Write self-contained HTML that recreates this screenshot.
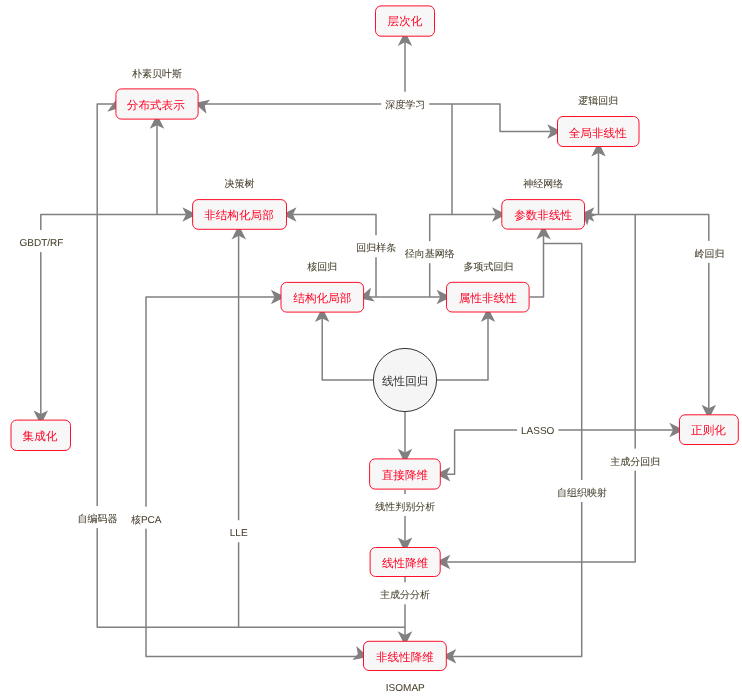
<!DOCTYPE html>
<html><head><meta charset="utf-8"><style>
html,body{margin:0;padding:0;background:#fff;}
body{width:742px;height:699px;overflow:hidden;position:relative;font-family:"Liberation Sans",sans-serif;}
svg{position:absolute;left:0;top:0;will-change:transform;}
</style></head><body>
<svg width="742" height="699" viewBox="0 0 742 699" font-family="Liberation Sans, sans-serif">

<polyline points="199.00,104.00 500.00,104.00 500.00,131.60 557.00,131.60" fill="none" stroke="#808080" stroke-width="1.5" stroke-linejoin="round"/>
<polyline points="405.00,104.00 405.00,37.00" fill="none" stroke="#808080" stroke-width="1.5" stroke-linejoin="round"/>
<polyline points="452.00,104.00 452.00,214.60 501.00,214.60" fill="none" stroke="#808080" stroke-width="1.5" stroke-linejoin="round"/>
<polyline points="429.70,297.00 429.70,214.60 452.00,214.60" fill="none" stroke="#808080" stroke-width="1.5" stroke-linejoin="round"/>
<polyline points="364.00,297.00 446.00,297.00" fill="none" stroke="#808080" stroke-width="1.5" stroke-linejoin="round"/>
<polyline points="287.00,214.60 376.00,214.60 376.00,297.00" fill="none" stroke="#808080" stroke-width="1.5" stroke-linejoin="round"/>
<polyline points="40.80,420.00 40.80,214.60 192.00,214.60" fill="none" stroke="#808080" stroke-width="1.5" stroke-linejoin="round"/>
<polyline points="157.00,214.60 157.00,120.00" fill="none" stroke="#808080" stroke-width="1.5" stroke-linejoin="round"/>
<polyline points="405.00,627.30 97.20,627.30 97.20,104.00 115.50,104.00" fill="none" stroke="#808080" stroke-width="1.5" stroke-linejoin="round"/>
<polyline points="238.60,627.30 238.60,230.00" fill="none" stroke="#808080" stroke-width="1.5" stroke-linejoin="round"/>
<polyline points="363.00,656.40 146.00,656.40 146.00,297.00 280.50,297.00" fill="none" stroke="#808080" stroke-width="1.5" stroke-linejoin="round"/>
<polyline points="405.00,577.00 405.00,641.00" fill="none" stroke="#808080" stroke-width="1.5" stroke-linejoin="round"/>
<polyline points="405.00,490.00 405.00,547.00" fill="none" stroke="#808080" stroke-width="1.5" stroke-linejoin="round"/>
<polyline points="405.00,412.00 405.00,458.00" fill="none" stroke="#808080" stroke-width="1.5" stroke-linejoin="round"/>
<polyline points="373.40,380.00 322.20,380.00 322.20,312.50" fill="none" stroke="#808080" stroke-width="1.5" stroke-linejoin="round"/>
<polyline points="436.60,380.00 488.00,380.00 488.00,312.50" fill="none" stroke="#808080" stroke-width="1.5" stroke-linejoin="round"/>
<polyline points="529.60,297.00 543.50,297.00 543.50,230.00" fill="none" stroke="#808080" stroke-width="1.5" stroke-linejoin="round"/>
<polyline points="543.50,243.40 581.70,243.40 581.70,656.40 446.60,656.40" fill="none" stroke="#808080" stroke-width="1.5" stroke-linejoin="round"/>
<polyline points="585.00,214.60 708.80,214.60 708.80,414.30" fill="none" stroke="#808080" stroke-width="1.5" stroke-linejoin="round"/>
<polyline points="598.50,214.60 598.50,147.00" fill="none" stroke="#808080" stroke-width="1.5" stroke-linejoin="round"/>
<polyline points="635.20,214.60 635.20,562.10 440.70,562.10" fill="none" stroke="#808080" stroke-width="1.5" stroke-linejoin="round"/>
<polyline points="679.00,429.90 454.60,429.90 454.60,474.20 441.00,474.20" fill="none" stroke="#808080" stroke-width="1.5" stroke-linejoin="round"/>
<path d="M561.70 131.60 L547.20 138.85 L550.83 131.60 L547.20 124.35 Z" fill="#808080"/>
<path d="M405.00 31.40 L412.25 45.90 L405.00 42.27 L397.75 45.90 Z" fill="#808080"/>
<path d="M506.50 214.60 L492.00 221.85 L495.62 214.60 L492.00 207.35 Z" fill="#808080"/>
<path d="M451.10 297.00 L436.60 304.25 L440.23 297.00 L436.60 289.75 Z" fill="#808080"/>
<path d="M282.00 214.60 L296.50 207.35 L292.88 214.60 L296.50 221.85 Z" fill="#808080"/>
<path d="M40.80 424.90 L33.55 410.40 L40.80 414.02 L48.05 410.40 Z" fill="#808080"/>
<path d="M196.90 214.60 L182.40 221.85 L186.03 214.60 L182.40 207.35 Z" fill="#808080"/>
<path d="M157.00 114.30 L164.25 128.80 L157.00 125.18 L149.75 128.80 Z" fill="#808080"/>
<path d="M238.80 224.90 L246.05 239.40 L238.80 235.78 L231.55 239.40 Z" fill="#808080"/>
<path d="M285.40 297.00 L270.90 304.25 L274.52 297.00 L270.90 289.75 Z" fill="#808080"/>
<path d="M405.00 645.80 L397.75 631.30 L405.00 634.92 L412.25 631.30 Z" fill="#808080"/>
<path d="M405.00 551.90 L397.75 537.40 L405.00 541.02 L412.25 537.40 Z" fill="#808080"/>
<path d="M405.00 463.30 L397.75 448.80 L405.00 452.43 L412.25 448.80 Z" fill="#808080"/>
<path d="M322.20 307.50 L329.45 322.00 L322.20 318.38 L314.95 322.00 Z" fill="#808080"/>
<path d="M488.00 307.40 L495.25 321.90 L488.00 318.27 L480.75 321.90 Z" fill="#808080"/>
<path d="M543.50 224.90 L550.75 239.40 L543.50 235.78 L536.25 239.40 Z" fill="#808080"/>
<path d="M441.80 656.30 L456.30 649.05 L452.68 656.30 L456.30 663.55 Z" fill="#808080"/>
<path d="M579.90 214.60 L594.40 207.35 L590.77 214.60 L594.40 221.85 Z" fill="#808080"/>
<path d="M708.80 419.20 L701.55 404.70 L708.80 408.32 L716.05 404.70 Z" fill="#808080"/>
<path d="M598.50 142.10 L605.75 156.60 L598.50 152.97 L591.25 156.60 Z" fill="#808080"/>
<path d="M435.80 562.00 L450.30 554.75 L446.68 562.00 L450.30 569.25 Z" fill="#808080"/>
<path d="M683.90 429.90 L669.40 437.15 L673.02 429.90 L669.40 422.65 Z" fill="#808080"/>
<path d="M435.90 474.20 L450.40 466.95 L446.77 474.20 L450.40 481.45 Z" fill="#808080"/>
<path d="M194.28 103.09 L210.16 99.79 L204.80 105.87 L206.44 113.81 Z" fill="#808080"/>
<path d="M358.85 298.24 L370.96 287.45 L369.35 295.40 L374.74 301.45 Z" fill="#808080"/>
<path d="M368.30 657.02 L352.36 660.02 L357.84 654.04 L356.34 646.08 Z" fill="#808080"/>
<path d="M116.92 98.62 L121.54 114.16 L115.03 109.33 L107.26 111.64 Z" fill="#808080"/>
<path d="M581.14 210.49 L596.80 214.67 L589.29 217.70 L587.20 225.53 Z" fill="#808080"/>
<text x="157.00" y="77.10" font-size="10" text-rendering="geometricPrecision" fill="#453f2c" stroke="#453f2c" stroke-width="0.06" text-anchor="middle">朴素贝叶斯</text>
<rect x="381.20" y="91.80" width="48.00" height="22" fill="#fff"/>
<text x="405.20" y="107.90" font-size="10" text-rendering="geometricPrecision" fill="#453f2c" stroke="#453f2c" stroke-width="0.06" text-anchor="middle">深度学习</text>
<text x="598.30" y="104.40" font-size="10" text-rendering="geometricPrecision" fill="#453f2c" stroke="#453f2c" stroke-width="0.06" text-anchor="middle">逻辑回归</text>
<text x="239.50" y="187.40" font-size="10" text-rendering="geometricPrecision" fill="#453f2c" stroke="#453f2c" stroke-width="0.06" text-anchor="middle">决策树</text>
<text x="543.20" y="187.20" font-size="10" text-rendering="geometricPrecision" fill="#453f2c" stroke="#453f2c" stroke-width="0.06" text-anchor="middle">神经网络</text>
<rect x="15.55" y="230.10" width="51.89" height="22" fill="#fff"/>
<text x="41.50" y="246.20" font-size="10" text-rendering="geometricPrecision" fill="#453f2c" stroke="#453f2c" stroke-width="0.06" text-anchor="middle">GBDT/RF</text>
<rect x="352.30" y="235.20" width="48.00" height="22" fill="#fff"/>
<text x="376.30" y="251.30" font-size="10" text-rendering="geometricPrecision" fill="#453f2c" stroke="#453f2c" stroke-width="0.06" text-anchor="middle">回归样条</text>
<rect x="400.70" y="241.20" width="58.00" height="22" fill="#fff"/>
<text x="429.70" y="257.30" font-size="10" text-rendering="geometricPrecision" fill="#453f2c" stroke="#453f2c" stroke-width="0.06" text-anchor="middle">径向基网络</text>
<rect x="690.40" y="240.90" width="38.00" height="22" fill="#fff"/>
<text x="709.40" y="257.00" font-size="10" text-rendering="geometricPrecision" fill="#453f2c" stroke="#453f2c" stroke-width="0.06" text-anchor="middle">岭回归</text>
<text x="322.20" y="270.30" font-size="10" text-rendering="geometricPrecision" fill="#453f2c" stroke="#453f2c" stroke-width="0.06" text-anchor="middle">核回归</text>
<text x="488.50" y="270.10" font-size="10" text-rendering="geometricPrecision" fill="#453f2c" stroke="#453f2c" stroke-width="0.06" text-anchor="middle">多项式回归</text>
<rect x="517.03" y="418.00" width="41.35" height="22" fill="#fff"/>
<text x="537.70" y="434.10" font-size="10" text-rendering="geometricPrecision" fill="#453f2c" stroke="#453f2c" stroke-width="0.06" text-anchor="middle">LASSO</text>
<rect x="606.20" y="448.60" width="58.00" height="22" fill="#fff"/>
<text x="635.20" y="464.70" font-size="10" text-rendering="geometricPrecision" fill="#453f2c" stroke="#453f2c" stroke-width="0.06" text-anchor="middle">主成分回归</text>
<rect x="553.00" y="480.00" width="58.00" height="22" fill="#fff"/>
<text x="582.00" y="496.10" font-size="10" text-rendering="geometricPrecision" fill="#453f2c" stroke="#453f2c" stroke-width="0.06" text-anchor="middle">自组织映射</text>
<rect x="371.20" y="494.10" width="68.00" height="22" fill="#fff"/>
<text x="405.20" y="510.20" font-size="10" text-rendering="geometricPrecision" fill="#453f2c" stroke="#453f2c" stroke-width="0.06" text-anchor="middle">线性判别分析</text>
<rect x="73.50" y="506.10" width="48.00" height="22" fill="#fff"/>
<text x="97.50" y="522.20" font-size="10" text-rendering="geometricPrecision" fill="#453f2c" stroke="#453f2c" stroke-width="0.06" text-anchor="middle">自编码器</text>
<rect x="126.92" y="506.70" width="38.56" height="22" fill="#fff"/>
<text x="146.20" y="522.80" font-size="10" text-rendering="geometricPrecision" fill="#453f2c" stroke="#453f2c" stroke-width="0.06" text-anchor="middle">核PCA</text>
<rect x="225.80" y="520.20" width="25.79" height="22" fill="#fff"/>
<text x="238.70" y="536.30" font-size="10" text-rendering="geometricPrecision" fill="#453f2c" stroke="#453f2c" stroke-width="0.06" text-anchor="middle">LLE</text>
<rect x="376.00" y="582.30" width="58.00" height="22" fill="#fff"/>
<text x="405.00" y="598.40" font-size="10" text-rendering="geometricPrecision" fill="#453f2c" stroke="#453f2c" stroke-width="0.06" text-anchor="middle">主成分分析</text>
<text x="405.30" y="691.00" font-size="10" text-rendering="geometricPrecision" fill="#453f2c" stroke="#453f2c" stroke-width="0.06" text-anchor="middle">ISOMAP</text>
<rect x="375.50" y="5.90" width="59.00" height="30.30" rx="5.5" ry="5.5" fill="#f7f7f7" stroke="#ff0f2c" stroke-width="1"/>
<text x="405.00" y="25.25" font-size="11.6" text-rendering="geometricPrecision" fill="#ff0022" text-anchor="middle">层次化</text>
<rect x="115.90" y="88.90" width="82.20" height="30.20" rx="5.5" ry="5.5" fill="#f7f7f7" stroke="#ff0f2c" stroke-width="1"/>
<text x="155.80" y="108.80" font-size="11.6" text-rendering="geometricPrecision" fill="#ff0022" text-anchor="middle">分布式表示</text>
<rect x="557.50" y="116.50" width="81.50" height="30.00" rx="5.5" ry="5.5" fill="#f7f7f7" stroke="#ff0f2c" stroke-width="1"/>
<text x="597.75" y="137.20" font-size="11.6" text-rendering="geometricPrecision" fill="#ff0022" text-anchor="middle">全局非线性</text>
<rect x="192.60" y="199.60" width="93.90" height="29.70" rx="5.5" ry="5.5" fill="#f7f7f7" stroke="#ff0f2c" stroke-width="1"/>
<text x="238.95" y="219.25" font-size="11.6" text-rendering="geometricPrecision" fill="#ff0022" text-anchor="middle">非结构化局部</text>
<rect x="501.80" y="199.60" width="82.70" height="29.50" rx="5.5" ry="5.5" fill="#f7f7f7" stroke="#ff0f2c" stroke-width="1"/>
<text x="543.15" y="219.15" font-size="11.6" text-rendering="geometricPrecision" fill="#ff0022" text-anchor="middle">参数非线性</text>
<rect x="281.00" y="282.40" width="82.60" height="29.70" rx="5.5" ry="5.5" fill="#f7f7f7" stroke="#ff0f2c" stroke-width="1"/>
<text x="322.30" y="302.05" font-size="11.6" text-rendering="geometricPrecision" fill="#ff0022" text-anchor="middle">结构化局部</text>
<rect x="446.50" y="282.30" width="82.60" height="29.70" rx="5.5" ry="5.5" fill="#f7f7f7" stroke="#ff0f2c" stroke-width="1"/>
<text x="487.80" y="301.95" font-size="11.6" text-rendering="geometricPrecision" fill="#ff0022" text-anchor="middle">属性非线性</text>
<rect x="11.00" y="420.10" width="59.50" height="30.40" rx="5.5" ry="5.5" fill="#f7f7f7" stroke="#ff0f2c" stroke-width="1"/>
<text x="39.95" y="440.10" font-size="11.6" text-rendering="geometricPrecision" fill="#ff0022" text-anchor="middle">集成化</text>
<rect x="679.50" y="414.80" width="58.80" height="29.70" rx="5.5" ry="5.5" fill="#f7f7f7" stroke="#ff0f2c" stroke-width="1"/>
<text x="708.50" y="434.45" font-size="11.6" text-rendering="geometricPrecision" fill="#ff0022" text-anchor="middle">正则化</text>
<rect x="369.60" y="458.90" width="70.70" height="30.20" rx="5.5" ry="5.5" fill="#f7f7f7" stroke="#ff0f2c" stroke-width="1"/>
<text x="404.95" y="478.50" font-size="11.6" text-rendering="geometricPrecision" fill="#ff0022" text-anchor="middle">直接降维</text>
<rect x="370.10" y="547.50" width="70.10" height="29.00" rx="5.5" ry="5.5" fill="#f7f7f7" stroke="#ff0f2c" stroke-width="1"/>
<text x="405.15" y="566.80" font-size="11.6" text-rendering="geometricPrecision" fill="#ff0022" text-anchor="middle">线性降维</text>
<rect x="363.50" y="641.30" width="82.80" height="29.20" rx="5.5" ry="5.5" fill="#f7f7f7" stroke="#ff0f2c" stroke-width="1"/>
<text x="404.90" y="660.70" font-size="11.6" text-rendering="geometricPrecision" fill="#ff0022" text-anchor="middle">非线性降维</text>
<circle cx="405.00" cy="380.00" r="31.60" fill="#f5f5f5" stroke="#333" stroke-width="1"/>
<text x="405.20" y="385.40" font-size="11.6" text-rendering="geometricPrecision" fill="#333" text-anchor="middle">线性回归</text>
</svg></body></html>
